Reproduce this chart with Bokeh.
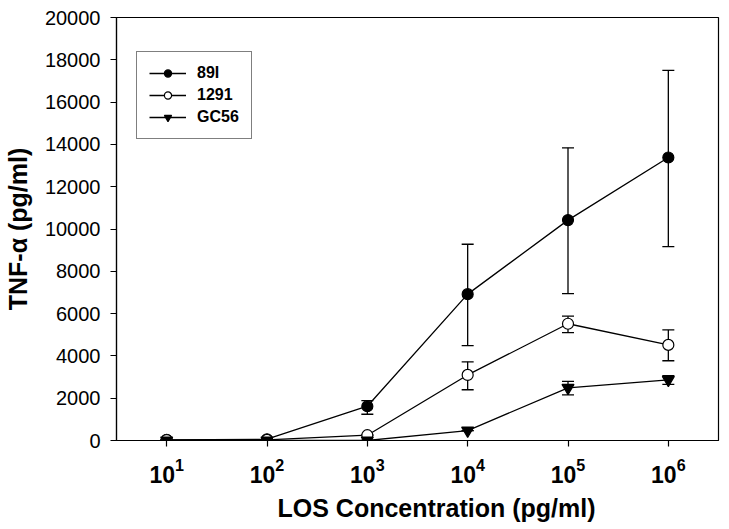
from bokeh.plotting import figure
from bokeh.models import (Range1d, FixedTicker, ColumnDataSource, Whisker, TeeHead,
                          Legend, LegendItem, Title)
from bokeh.embed import file_html
from bokeh.resources import INLINE

# ---- data ----
conc = [10, 100, 1000, 10000, 100000, 1000000]
s89_mean = [30, 60, 1620, 6920, 10420, 13380]
s89_lo = [30, 60, 1240, 4490, 6940, 9170]
s89_hi = [30, 60, 1890, 9280, 13840, 17500]
s1291_mean = [20, 30, 250, 3100, 5520, 4520]
s1291_lo = [20, 30, 250, 2400, 5100, 3770]
s1291_hi = [20, 30, 250, 3720, 5880, 5230]
gc56_mean = [0, 0, 0, 470, 2490, 2870]
gc56_lo = [0, 0, 0, 470, 2160, 2650]
gc56_hi = [0, 0, 0, 470, 2800, 3070]
x_ticks = [10, 100, 1000, 10000, 100000, 1000000]
y_ticks = list(range(0, 20001, 2000))
names = ["89I", "1291", "GC56"]
x_title = "LOS Concentration (pg/ml)"
y_title = "TNF-α (pg/ml)"

FONT = "Liberation Sans"

p = figure(frame_width=602, frame_height=423, x_axis_type="log",
           x_range=Range1d(10 ** 0.5, 10 ** 6.5), y_range=Range1d(0, 20000),
           output_backend="svg", toolbar_location=None,
           min_border_left=116, min_border_top=17, min_border_right=8, min_border_bottom=86)
p.background_fill_color = "white"
p.border_fill_color = "white"
p.grid.visible = False
p.outline_line_color = "black"
p.outline_line_width = 1.2

for ax in (p.xaxis[0], p.yaxis[0]):
    ax.axis_line_color = "black"
    ax.axis_line_width = 1.2
    ax.major_tick_line_color = "black"
    ax.major_tick_line_width = 1.2
    ax.major_tick_out = 6
    ax.major_tick_in = 0
    ax.minor_tick_line_color = None
    ax.axis_label_text_font = FONT
    ax.axis_label_text_font_style = "bold"
    ax.axis_label_text_font_size = "25px"
    ax.axis_label_text_color = "black"
    ax.major_label_text_font = FONT
    ax.major_label_text_color = "black"

p.xaxis.ticker = FixedTicker(ticks=x_ticks)
p.xaxis.major_label_text_font_size = "23px"
p.xaxis.major_label_text_font_style = "bold"
p.xaxis.major_label_standoff = 11

p.yaxis.ticker = FixedTicker(ticks=y_ticks)
p.yaxis.major_label_text_font_size = "20px"
p.yaxis.major_label_standoff = 10
p.yaxis.axis_label = y_title
p.yaxis.axis_label_standoff = 10

xt = Title(text=x_title, align="left", offset=161, standoff=12,
           text_font=FONT, text_font_style="bold", text_font_size="25px",
           text_color="black")
p.add_layout(xt, "below")

series = [
    (s89_mean, s89_lo, s89_hi, "circle", "black"),
    (s1291_mean, s1291_lo, s1291_hi, "circle", "white"),
    (gc56_mean, gc56_lo, gc56_hi, "inverted_triangle", "black"),
]

items = []
pending = []
for (m, lo, hi, marker, fill), name in zip(series, names):
    src = ColumnDataSource(dict(x=conc, y=m, lo=lo, hi=hi))
    ln = p.line("x", "y", source=src, line_color="black", line_width=1.3)
    w = Whisker(base="x", lower="lo", upper="hi", source=src,
                line_color="black", line_width=1.3,
                upper_head=TeeHead(size=12, line_color="black", line_width=1.3),
                lower_head=TeeHead(size=12, line_color="black", line_width=1.3))
    p.add_layout(w)
    pending.append((src, marker, fill, ln, name))

for src, marker, fill, ln, name in pending:
    size = 12 if marker == "inverted_triangle" else 11
    mk = p.scatter("x", "y", source=src, marker=marker, size=size,
                   fill_color=fill, line_color="black", line_width=1.2)
    items.append(LegendItem(label=name, renderers=[ln, mk]))

legend = Legend(items=items, location=(20, 301))
legend.label_text_font = FONT
legend.label_text_font_style = "bold"
legend.label_text_font_size = "16px"
legend.label_text_color = "black"
legend.glyph_width = 37
legend.glyph_height = 18
legend.label_height = 18
legend.spacing = 4
legend.padding = 12
legend.margin = 0
legend.label_standoff = 11
legend.border_line_color = "black"
legend.border_line_width = 1
legend.background_fill_color = "white"
legend.background_fill_alpha = 1
p.add_layout(legend)

open("out.html", "w").write(file_html(p, INLINE))
